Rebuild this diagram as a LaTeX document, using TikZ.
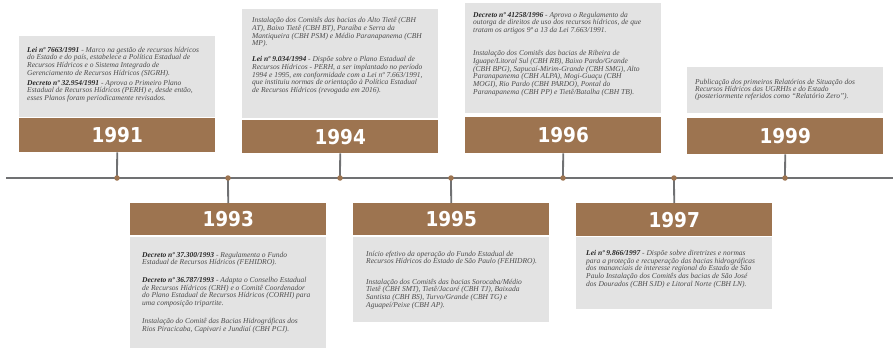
\documentclass[tikz,border=0pt]{standalone}
\usepackage{fontspec}
\setmainfont{Liberation Serif}
\newfontfamily\yearfont{DejaVu Sans Condensed}
\definecolor{brownc}{RGB}{157,116,80}
\definecolor{greyfill}{RGB}{227,227,227}
\definecolor{linegray}{RGB}{112,113,115}
\definecolor{txtgray}{RGB}{75,75,75}
\definecolor{txtdark}{RGB}{40,40,40}
\newcommand{\bt}[1]{{\bfseries\color{txtdark}#1}}
\newcommand{\fs}{\rule{0pt}{6.8pt}}
\begin{document}
\begin{tikzpicture}[x=1pt,y=-1pt,
  yearbox/.style={fill=brownc, draw=none, inner sep=0pt, minimum width=196pt, anchor=north west, text=white, font=\yearfont\bfseries\fontsize{20.5}{22}\selectfont},
  infobox/.style={fill=greyfill, draw=none, inner sep=0pt, minimum width=196pt, anchor=north west},
  infotext/.style={anchor=north west, inner sep=0pt, align=left, text=txtgray, font=\itshape\fontsize{7.5}{7.7}\selectfont},
  axisline/.style={draw=linegray, line width=2.6pt},
  stem/.style={draw=linegray, line width=1.8pt},
  dot/.style={circle, fill=brownc, inner sep=0pt, minimum size=5.5pt}
]
\useasboundingbox (0,0) rectangle (893,350);
\fill[white] (0,0) rectangle (893,350);

% grey info boxes
\node[infobox, minimum height=81pt] (g91) at (19,36) {};
\node[infobox, minimum height=109pt] (g94) at (242,9) {};
\node[infobox, minimum height=110pt] (g96) at (465,3) {};
\node[infobox, minimum height=46pt] (g99) at (687,67) {};
\node[infobox, minimum height=111pt] (g93) at (130,237) {};
\node[infobox, minimum height=85pt] (g95) at (353,237) {};
\node[infobox, minimum height=72pt] (g97) at (576,237) {};

% year boxes
\node[yearbox, minimum height=34pt] (b91) at (19,118) {1991};
\node[yearbox, minimum height=33pt] (b94) at (242,120) {1994};
\node[yearbox, minimum height=36pt] (b96) at (465,117) {1996};
\node[yearbox, minimum height=36pt] (b99) at (687,118) {1999};
\node[yearbox, minimum height=32pt] (b93) at (130,203) {1993};
\node[yearbox, minimum height=32pt] (b95) at (353,203) {1995};
\node[yearbox, minimum height=33pt] (b97) at (576,203) {1997};

% timeline
\coordinate (tl) at (6,178);
\coordinate (tr) at (893,178);
\draw[axisline] (tl) -- (tr);
\coordinate (p91) at (117,178);
\coordinate (p93) at (228,178);
\coordinate (p94) at (340,178);
\coordinate (p95) at (451,178);
\coordinate (p96) at (563,178);
\coordinate (p97) at (674,178);
\coordinate (p99) at (785,178);
\draw[stem] (b91.south) -- (p91);
\draw[stem] (b94.south) -- (p94);
\draw[stem] (b96.south) -- (p96);
\draw[stem] (b99.south) -- (p99);
\draw[stem] (b93.north) -- (p93);
\draw[stem] (b95.north) -- (p95);
\draw[stem] (b97.north) -- (p97);
\foreach \p in {91,93,94,95,96,97,99}{\node[dot] (d\p) at (p\p) {};}

% texts
\node[infotext] (t91) at (27,45.1) {\fs\bt{Lei nº 7663/1991} - Marco na gestão de recursos hídricos\\
do Estado e do país, estabelece a Política Estadual de\\
Recursos Hídricos e o Sistema Integrado de\\
Gerenciamento de Recursos Hídricos (SIGRH).\\[2.3pt]
\bt{Decreto nº 32.954/1991} - Aprova o Primeiro Plano\\
Estadual de Recursos Hídricos (PERH) e, desde então,\\
esses Planos foram periodicamente revisados.};

\node[infotext] (t94) at (252,15.8) {\fs Instalação dos Comitês das bacias do Alto Tietê (CBH\\
AT), Baixo Tietê (CBH BT), Paraíba e Serra da\\
Mantiqueira (CBH PSM) e Médio Paranapanema (CBH\\
MP).\\[8.3pt]
\bt{Lei nº 9.034/1994} - Dispõe sobre o Plano Estadual de\\
Recursos Hídricos - PERH, a ser implantado no período\\
1994 e 1995, em conformidade com a Lei nº 7.663/1991,\\
que instituiu normas de orientação à Política Estadual\\
de Recursos Hídricos (revogada em 2016).};

\node[infotext] (t96) at (473,10.1) {\fs\bt{Decreto nº 41258/1996} - Aprova o Regulamento da\\
outorga de direitos de uso dos recursos hídricos, de que\\
tratam os artigos 9º a 13 da Lei 7.663/1991.\\[15.6pt]
Instalação dos Comitês das bacias de Ribeira de\\
Iguape/Litoral Sul (CBH RB), Baixo Pardo/Grande\\
(CBH BPG), Sapucaí-Mirim-Grande (CBH SMG), Alto\\
Paranapanema (CBH ALPA), Mogi-Guaçu (CBH\\
MOGI), Rio Pardo (CBH PARDO), Pontal do\\
Paranapanema (CBH PP) e Tietê/Batalha (CBH TB).};

\node[infotext, font=\itshape\fontsize{7.5}{7.2}\selectfont] (t99) at (695,77.4) {\fs Publicação dos primeiros Relatórios de Situação dos\\
Recursos Hídricos das UGRHIs e do Estado\\
(posteriormente referidos como “Relatório Zero”).};

\node[infotext] (t93) at (142,250.1) {\fs\bt{Decreto nº 37.300/1993} - Regulamenta o Fundo\\
Estadual de Recursos Hídricos (FEHIDRO).\\[10pt]
\bt{Decreto nº 36.787/1993} - Adapta o Conselho Estadual\\
de Recursos Hídricos (CRH) e o Comitê Coordenador\\
do Plano Estadual de Recursos Hídricos (CORHI) para\\
uma composição tripartite.\\[10pt]
Instalação do Comitê das Bacias Hidrográficas dos\\
Rios Piracicaba, Capivari e Jundiaí (CBH PCJ).};

\node[infotext] (t95) at (366,249.1) {\fs Início efetivo da operação do Fundo Estadual de\\
Recursos Hídricos do Estado de São Paulo (FEHIDRO).\\[12.5pt]
Instalação dos Comitês das bacias Sorocaba/Médio\\
Tietê (CBH SMT), Tietê/Jacaré (CBH TJ), Baixada\\
Santista (CBH BS), Turvo/Grande (CBH TG) e\\
Aguapeí/Peixe (CBH AP).};

\node[infotext] (t97) at (586,248.4) {\fs\bt{Lei nº 9.866/1997} - Dispõe sobre diretrizes e normas\\
para a proteção e recuperação das bacias hidrográficas\\
dos mananciais de interesse regional do Estado de São\\
Paulo Instalação dos Comitês das bacias de São José\\
dos Dourados (CBH SJD) e Litoral Norte (CBH LN).};
\end{tikzpicture}
\end{document}
